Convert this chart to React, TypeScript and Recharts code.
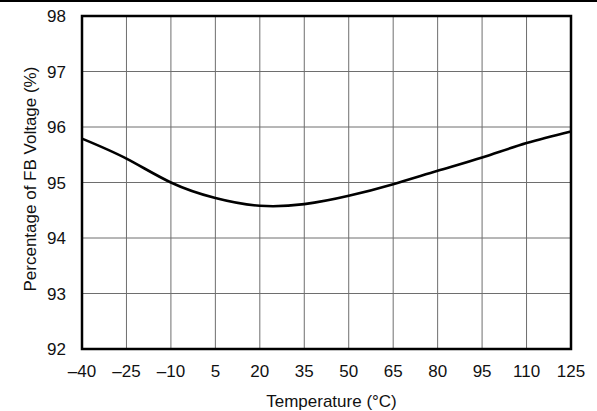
import { LineChart, Line, XAxis, YAxis, CartesianGrid, ReferenceArea } from "recharts"

const temps = [-40, -25, -10, 5, 20, 35, 50, 65, 80, 95, 110, 125]
const fbPercent = [95.79, 95.43, 95.0, 94.72, 94.58, 94.61, 94.76, 94.97, 95.21, 95.45, 95.71, 95.92]
const yTicks = [92, 93, 94, 95, 96, 97, 98]

const data = temps.map((t, i) => ({ t, v: fbPercent[i] }))

const fmtX = (v: number) => (v < 0 ? `\u2013${-v}` : `${v}`)

const font = "'Liberation Sans', Arial, sans-serif"

export default function App() {
  return (
    <div style={{ position: "absolute", left: 0, top: 0, width: 597, height: 411, background: "#fff", fontFamily: font }}>
      <div style={{ position: "absolute", left: 0, top: 0, width: 597, height: 2, background: "#000" }} />
      <LineChart width={597} height={411} data={data} margin={{ top: 16, right: 26, bottom: 32, left: 42 }}>
        <CartesianGrid stroke="#6e6e6e" strokeWidth={1} />
        <XAxis
          dataKey="t"
          type="number"
          domain={[-40, 125]}
          ticks={temps}
          tickFormatter={fmtX}
          axisLine={false}
          tickLine={false}
          tickSize={0}
          tickMargin={16}
          height={30}
          tick={{ fill: "#111", fontSize: 17, fontFamily: font }}
          label={{ value: "Temperature (\u00b0C)", position: "insideBottom", offset: -28, dx: 5, fill: "#111", fontSize: 17, fontFamily: font }}
        />
        <YAxis
          type="number"
          domain={[92, 98]}
          ticks={yTicks}
          axisLine={false}
          tickLine={false}
          tickSize={0}
          tickMargin={16}
          width={40}
          tick={{ fill: "#111", fontSize: 17, fontFamily: font }}
          label={{ value: "Percentage of FB Voltage (%)", angle: -90, position: "insideLeft", offset: -12, dy: 109, fill: "#111", fontSize: 17, fontFamily: font }}
        />
        <ReferenceArea x1={-40} x2={125} y1={92} y2={98} fill="none" stroke="#000" strokeWidth={2.5} />
        <Line dataKey="v" type="natural" stroke="#000" strokeWidth={2.6} dot={false} isAnimationActive={false} />
      </LineChart>
    </div>
  )
}
